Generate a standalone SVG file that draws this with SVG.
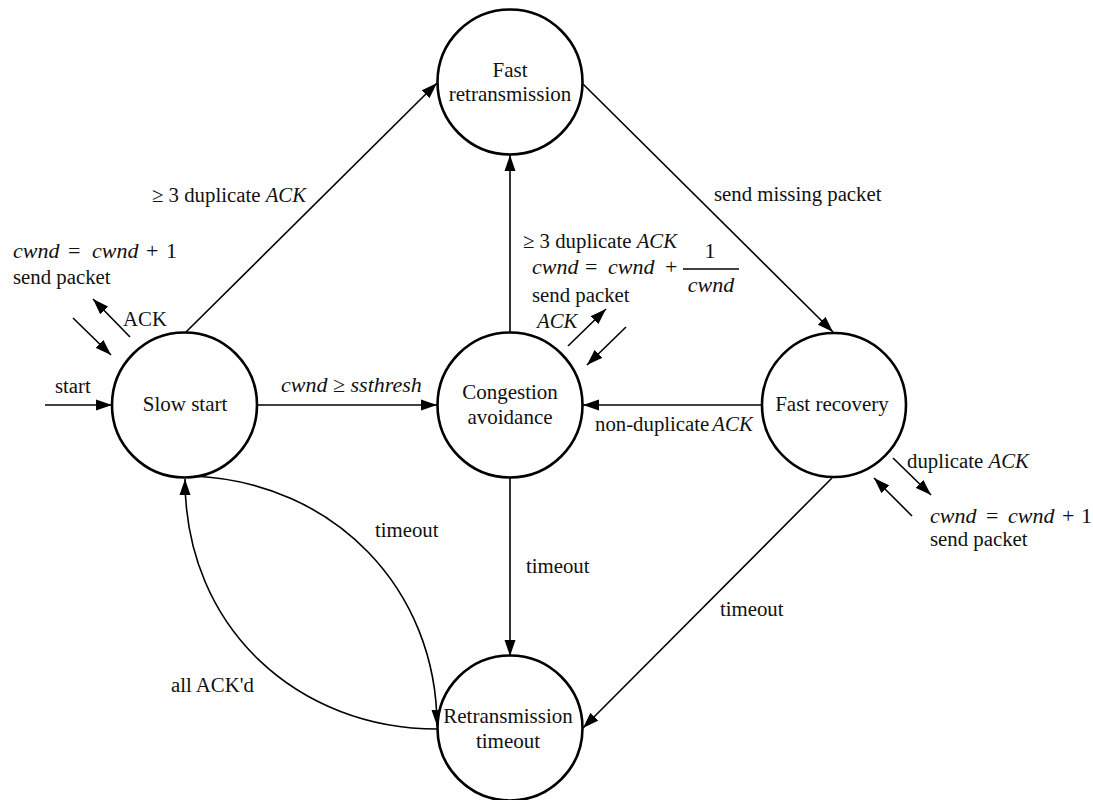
<svg xmlns="http://www.w3.org/2000/svg" width="1093" height="800" viewBox="0 0 1093 800">
<style>
text{font-family:"Liberation Serif","Times New Roman",serif;fill:#111;}
.n{font-size:21px;text-anchor:middle;}
.l{font-size:20.8px;}
.m{font-size:22px;}
.i{font-style:italic;}
.node circle{fill:#fff;stroke:#000;stroke-width:2.6;}
.e{fill:none;stroke:#000;stroke-width:1.6;marker-end:url(#ah);}
</style>
<defs>
<marker id="ah" markerUnits="userSpaceOnUse" markerWidth="17" markerHeight="12" refX="16" refY="6" orient="auto">
<path d="M0,0.5 L16,6 L0,11.5 Z" fill="#000"/>
</marker>
</defs>
<rect width="1093" height="800" fill="#fff"/>
<g id="connectors">
<line class="e" x1="45" y1="405" x2="112" y2="405"/>
<line class="e" x1="257" y1="405" x2="437" y2="405"/>
<line class="e" x1="186" y1="332" x2="437" y2="83"/>
<line class="e" x1="510" y1="333" x2="510" y2="155"/>
<line class="e" x1="583" y1="84" x2="833" y2="332"/>
<line class="e" x1="762" y1="405" x2="583" y2="405"/>
<line class="e" x1="510" y1="477" x2="510" y2="656"/>
<line class="e" x1="832" y1="478" x2="583" y2="728"/>
<path class="e" d="M193,476 C335,482 437,590 437,726"/>
<path class="e" d="M437,729 C300,729 185,630 185,479"/>
<line class="e" x1="130" y1="337" x2="93" y2="299"/>
<line class="e" x1="73" y1="318" x2="111" y2="355"/>
<line class="e" x1="568" y1="346" x2="606" y2="309"/>
<line class="e" x1="626" y1="327" x2="587" y2="365"/>
<line class="e" x1="893" y1="458" x2="931" y2="495"/>
<line class="e" x1="912" y1="516" x2="874" y2="478"/>
</g>
<g id="node-fast-retransmission" class="node">
<circle cx="510" cy="82" r="72.5"/>
<text class="n" x="510" y="77">Fast</text>
<text class="n" x="510" y="101">retransmission</text>
</g>
<g id="node-slow-start" class="node">
<circle cx="184.5" cy="405" r="72.5"/>
<text class="n" x="185" y="411">Slow start</text>
</g>
<g id="node-congestion-avoidance" class="node">
<circle cx="510" cy="405" r="72.5"/>
<text class="n" x="510" y="399">Congestion</text>
<text class="n" x="510" y="424">avoidance</text>
</g>
<g id="node-fast-recovery" class="node">
<circle cx="834" cy="405" r="72"/>
<text class="n" x="832" y="411">Fast recovery</text>
</g>
<g id="node-retransmission-timeout" class="node">
<circle cx="510" cy="728" r="72.5"/>
<text class="n" x="508" y="723">Retransmission</text>
<text class="n" x="508" y="748">timeout</text>
</g>
<g id="labels">
<text class="l" x="55" y="393">start</text>
<text class="m" x="281" y="392"><tspan class="i">cwnd</tspan> ≥ <tspan class="i">ssthresh</tspan></text>
<text class="l" x="152" y="202">≥ 3 duplicate <tspan class="i">ACK</tspan></text>
<text class="l" x="523" y="248">≥ 3 duplicate <tspan class="i">ACK</tspan></text>
<text class="l" x="714" y="201">send missing packet</text>
<text class="l" x="595" y="431">non-duplicate<tspan class="i" dx="3">ACK</tspan></text>
<text class="l" x="526" y="573">timeout</text>
<text class="l" x="720" y="616">timeout</text>
<text class="l" x="375" y="537">timeout</text>
<text class="l" x="171" y="692">all ACK'd</text>
<text class="m" y="258"><tspan class="i" x="13">cwnd</tspan><tspan x="68">=</tspan><tspan class="i" x="92">cwnd</tspan><tspan x="146">+</tspan><tspan x="166">1</tspan></text>
<text class="l" x="13" y="284">send packet</text>
<text class="l" x="123" y="326">ACK</text>
<text class="m" y="274"><tspan class="i" x="532">cwnd</tspan><tspan x="585">=</tspan><tspan class="i" x="608">cwnd</tspan><tspan x="665">+</tspan></text>
<text class="m" x="710" y="258" text-anchor="middle">1</text>
<line x1="683" y1="269" x2="739" y2="269" stroke="#000" stroke-width="1.4"/>
<text class="m i" x="711" y="292" text-anchor="middle">cwnd</text>
<text class="l" x="532" y="302">send packet</text>
<text class="l i" x="537" y="328">ACK</text>
<text class="l" x="907" y="468">duplicate <tspan class="i">ACK</tspan></text>
<text class="m" y="523"><tspan class="i" x="930">cwnd</tspan><tspan x="986">=</tspan><tspan class="i" x="1008">cwnd</tspan><tspan x="1062">+</tspan><tspan x="1081">1</tspan></text>
<text class="l" x="930" y="546">send packet</text>
</g>
</svg>
